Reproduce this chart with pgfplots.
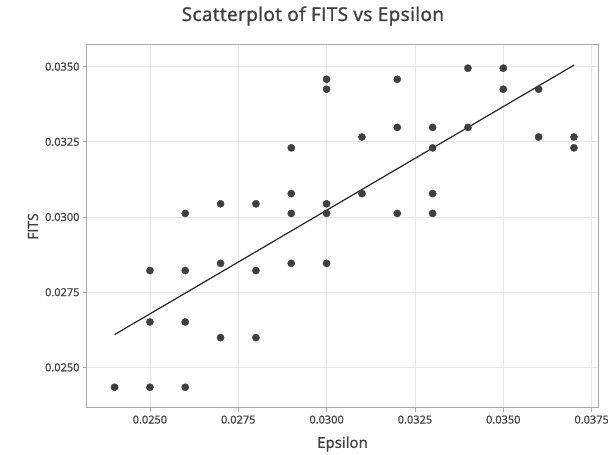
\documentclass[border=0pt]{standalone}
\usepackage{fontspec}
\setmainfont{Open Sans}
\newfontfamily\semib{Open Sans}[FakeBold=1.2]
\newfontfamily\semibt{Open Sans}[FakeBold=1.6, LetterSpace=2]
\usepackage{pgfplots}
\pgfplotsset{compat=1.18}
\definecolor{txt}{HTML}{404040}
\definecolor{pt}{HTML}{3F3F3F}
\definecolor{frm}{HTML}{A8A8A8}
\definecolor{grd}{HTML}{E6E6E6}
\begin{document}
\begin{tikzpicture}
\useasboundingbox (0,0) rectangle (608pt,455pt);
\begin{axis}[
  at={(87pt,47pt)}, anchor=south west,
  scale only axis, width=511pt, height=363pt,
  xmin=0.02322, xmax=0.03768, ymin=0.02365, ymax=0.03572,
  xtick={0.025,0.0275,0.03,0.0325,0.035,0.0375},
  ytick={0.025,0.0275,0.03,0.0325,0.035},
  scaled ticks=false,
  xticklabel style={/pgf/number format/.cd, fixed, fixed zerofill, precision=4},
  yticklabel style={/pgf/number format/.cd, fixed, fixed zerofill, precision=4},
  /pgf/number format/assume math mode=true,
  ticklabel style={font=\semib\fontsize{11}{13}\selectfont, text=txt},
  grid=major, grid style={grd, line width=0.8pt},
  axis line style={frm, line width=1pt},
  tick style={frm, line width=0.8pt},
  tick align=outside, major tick length=4pt,
  xtick pos=left, ytick pos=left,
  title={Scatterplot of FITS vs Epsilon},
  title style={at={(axis description cs:0.442,1.0634)}, anchor=center, font=\semibt\fontsize{19}{22}\selectfont, text=txt},
  xlabel={Epsilon},
  xlabel style={at={(axis description cs:0.5,-0.0992)}, anchor=center, font=\semib\fontsize{15}{17}\selectfont, text=txt},
  ylabel={FITS},
  ylabel style={at={(axis description cs:-0.1057,0.5)}, anchor=center, font=\semib\fontsize{14}{16}\selectfont, text=txt},
]
\addplot[only marks, mark=*, mark size=3.6pt, mark options={fill=pt, draw=pt}] coordinates {
(0.024,0.02434)
(0.025,0.02822) (0.025,0.02651) (0.025,0.02434)
(0.026,0.03012) (0.026,0.02822) (0.026,0.02651) (0.026,0.02434)
(0.027,0.03044) (0.027,0.02846) (0.027,0.02599)
(0.028,0.03044) (0.028,0.02822) (0.028,0.02599)
(0.029,0.0323) (0.029,0.03078) (0.029,0.03012) (0.029,0.02846)
(0.030,0.03458) (0.030,0.03425) (0.030,0.03044) (0.030,0.03012) (0.030,0.02846)
(0.031,0.03266) (0.031,0.03078)
(0.032,0.03458) (0.032,0.03298) (0.032,0.03012)
(0.033,0.03298) (0.033,0.0323) (0.033,0.03078) (0.033,0.03012)
(0.034,0.03495) (0.034,0.03298)
(0.035,0.03495) (0.035,0.03425)
(0.036,0.03425) (0.036,0.03266)
(0.037,0.03266) (0.037,0.0323)
};
\addplot[color=black!85, line width=1.2pt] coordinates {(0.024,0.02609) (0.037,0.03505)};
\end{axis}
\end{tikzpicture}
\end{document}
